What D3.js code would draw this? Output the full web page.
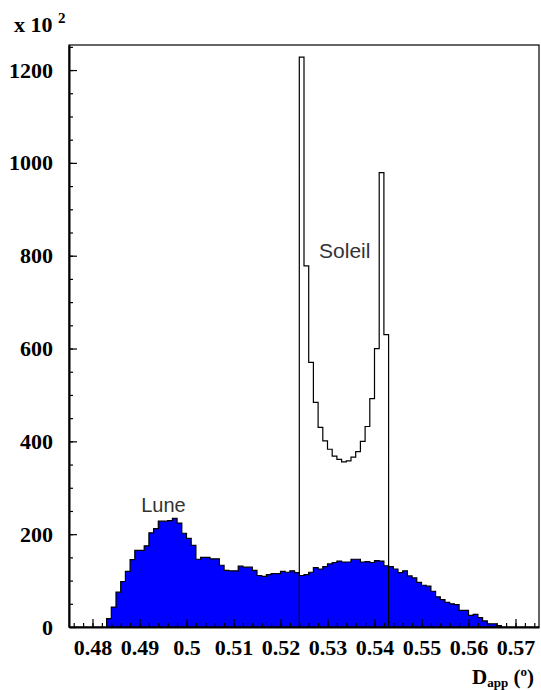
<!DOCTYPE html>
<html>
<head>
<meta charset="utf-8">
<script src="https://cdn.jsdelivr.net/npm/d3@7"></script>
<style>
  body { margin: 0; background: #fff; }
  svg { display: block; }
  .tick text { font-family: "Liberation Serif", "Times New Roman", serif; font-weight: bold; font-size: 22px; fill: #000; }
</style>
</head>
<body>
<svg id="chart" width="541" height="690"></svg>
<script>
// bin width of both histograms
const binWidth = 0.001;

// Lune: first bin starts at 0.483
const luneStart = 0.483;
const luneCounts = [
  18, 43, 75, 98, 120, 145, 165, 165, 175, 203,
  212, 228, 228, 229, 234, 224, 202, 191, 176, 146,
  150, 150, 147, 147, 133, 122, 121, 121, 131, 129,
  129, 122, 111, 109, 113, 115, 115, 120, 118, 121,
  117, 111, 113, 118, 128, 125, 130, 136, 139, 142,
  140, 140, 146, 146, 140, 141, 139, 143, 142, 132,
  130, 125, 117, 121, 110, 106, 96, 90, 88, 77,
  65, 59, 53, 50, 48, 36, 36, 25, 27, 20,
  13, 7, 7, 3
];

// Soleil: first bin starts at 0.524
const soleilStart = 0.524;
const soleilCounts = [
  1228, 778, 570, 484, 430, 401, 383, 368, 361, 356,
  358, 366, 378, 400, 432, 492, 600, 979, 630
];

const xTickValues = [0.48, 0.49, 0.50, 0.51, 0.52, 0.53, 0.54, 0.55, 0.56, 0.57];
const xTickLabels = ["0.48", "0.49", "0.5", "0.51", "0.52", "0.53", "0.54", "0.55", "0.56", "0.57"];
const yTickValues = [0, 200, 400, 600, 800, 1000, 1200];
const yTickLabels = ["0", "200", "400", "600", "800", "1000", "1200"];

const margin = { top: 45, right: 2, bottom: 63, left: 69 };
const svgWidth = 541, svgHeight = 690;
const width = svgWidth - margin.left - margin.right;
const height = svgHeight - margin.top - margin.bottom;

const svg = d3.select("#chart");
const g = svg.append("g")
  .attr("transform", "translate(" + margin.left + "," + margin.top + ")");

const x = d3.scaleLinear().domain([0.475, 0.575]).range([0, width]);
const y = d3.scaleLinear().domain([0, 1254]).range([height, 0]);

// turn counts into step points, closed down to the baseline on both ends
function stepPoints(start, counts) {
  let pts = [{ x: start, v: 0 }];
  counts.forEach((c, i) => pts.push({ x: start + i * binWidth, v: c }));
  pts.push({ x: start + counts.length * binWidth, v: 0 });
  return pts;
}

const lunePts = stepPoints(luneStart, luneCounts);
const soleilPts = stepPoints(soleilStart, soleilCounts);

const area = d3.area()
  .curve(d3.curveStepAfter)
  .x(d => x(d.x))
  .y0(y(0))
  .y1(d => y(d.v));

const line = d3.line()
  .curve(d3.curveStepAfter)
  .x(d => x(d.x))
  .y(d => y(d.v));

// Lune, filled blue
g.append("path")
  .datum(lunePts)
  .attr("fill", "#0000ff")
  .attr("stroke", "none")
  .attr("d", area);
g.append("path")
  .datum(lunePts)
  .attr("fill", "none")
  .attr("stroke", "#000")
  .attr("stroke-width", 1.2)
  .attr("d", line);

// Soleil, outline only
g.append("path")
  .datum(soleilPts)
  .attr("fill", "none")
  .attr("stroke", "#000")
  .attr("stroke-width", 1.2)
  .attr("d", line);

// frame
g.append("rect")
  .attr("x", 0).attr("y", 0)
  .attr("width", width).attr("height", height)
  .attr("fill", "none")
  .attr("stroke", "#000")
  .attr("stroke-width", 1.2);

// minor ticks
g.append("g")
  .attr("transform", "translate(0," + height + ")")
  .call(d3.axisBottom(x).tickValues(d3.range(0.476, 0.5745, 0.002)).tickSize(-4).tickSizeOuter(0).tickFormat(""))
  .call(a => a.select(".domain").remove());
g.append("g")
  .call(d3.axisLeft(y).tickValues(d3.range(50, 1254, 50)).tickSize(-4).tickSizeOuter(0).tickFormat(""))
  .call(a => a.select(".domain").remove());

// major ticks with labels
const xAxis = g.append("g")
  .attr("transform", "translate(0," + height + ")")
  .call(d3.axisBottom(x).tickValues(xTickValues).tickSize(-8).tickSizeOuter(0).tickPadding(12)
    .tickFormat((d, i) => xTickLabels[i]));
xAxis.select(".domain").attr("stroke-width", 2);

const yAxis = g.append("g")
  .call(d3.axisLeft(y).tickValues(yTickValues).tickSize(-8).tickSizeOuter(0).tickPadding(16)
    .tickFormat((d, i) => yTickLabels[i]));
yAxis.select(".domain").attr("stroke-width", 2);

svg.selectAll(".tick line").attr("stroke-width", 1.2);

// exponent label top left
const expo = svg.append("text")
  .attr("x", 14).attr("y", 32)
  .attr("font-family", "Liberation Serif, serif")
  .attr("font-weight", "bold")
  .attr("font-size", 22)
  .text("x 10 ");
expo.append("tspan")
  .attr("font-size", 15)
  .attr("dy", -9)
  .text("2");

// x axis title
const xt = svg.append("text")
  .attr("x", 472).attr("y", 684)
  .attr("font-family", "Liberation Serif, serif")
  .attr("font-weight", "bold")
  .attr("font-size", 21)
  .text("D");
xt.append("tspan").attr("font-size", 13).attr("dy", 3).text("app");
xt.append("tspan").attr("dy", -3).text(" (");
xt.append("tspan").attr("font-size", 13).attr("dy", -8).text("o");
xt.append("tspan").attr("dy", 8).text(")");

// histogram names
g.append("text")
  .attr("x", x(0.4951)).attr("y", y(247))
  .attr("text-anchor", "middle")
  .attr("font-family", "Liberation Sans, Arial, sans-serif")
  .attr("font-size", 20)
  .attr("fill", "#333")
  .text("Lune");
g.append("text")
  .attr("x", x(0.5282)).attr("y", y(796))
  .attr("font-family", "Liberation Sans, Arial, sans-serif")
  .attr("font-size", 21)
  .attr("fill", "#333")
  .text("Soleil");
</script>
</body>
</html>
